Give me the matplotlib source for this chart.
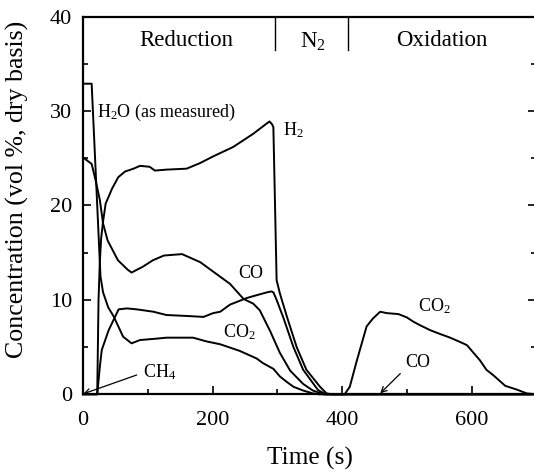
import matplotlib
matplotlib.use("Agg")
import matplotlib.pyplot as plt
from matplotlib.ticker import MultipleLocator

plt.rcParams['font.family'] = ['Liberation Serif', 'DejaVu Serif']
plt.rcParams['mathtext.fontset'] = 'custom'
plt.rcParams['mathtext.rm'] = 'Liberation Serif'
plt.rcParams['mathtext.it'] = 'Liberation Serif:italic'

# ---- data (time in s, concentration in vol %) ----
h2o_t = [0, 13.4, 27, 31, 39, 47, 62, 75, 88, 114, 129, 170, 191, 212, 242, 268, 278, 294, 304, 315, 325, 340, 355, 365, 700]
h2o_c = [32.9, 32.9, 12.5, 10.8, 9.2, 8.3, 6.1, 5.4, 5.75, 5.9, 6.0, 6.0, 5.6, 5.3, 4.6, 3.8, 3.3, 2.7, 1.9, 1.3, 0.8, 0.4, 0.1, 0, 0]

co2_t = [0, 13.4, 20, 26, 31, 38, 54, 69, 75, 92, 108, 125, 153, 181, 201, 227, 248, 263, 273, 289, 304, 320, 340, 355, 372,
         404, 412, 423, 438, 448, 459, 469, 487, 500, 510, 521, 536, 551, 567, 587, 593, 603, 613, 623, 634, 652, 670, 685, 700]
co2_c = [25.1, 24.4, 22.5, 20.6, 18.1, 16.3, 14.2, 13.2, 12.9, 13.5, 14.2, 14.7, 14.85, 14.0, 13.0, 11.7, 10.1, 9.6, 8.9, 6.7, 4.4, 2.5, 1.1, 0.4, 0,
         0, 0.8, 3.6, 7.2, 8.05, 8.75, 8.6, 8.5, 8.15, 7.7, 7.3, 6.8, 6.4, 6.0, 5.4, 5.2, 4.4, 3.6, 2.6, 2.0, 0.9, 0.5, 0.1, 0]

h2_t = [0, 22, 24, 26, 28, 31, 35, 45, 54.5, 65, 78, 88, 103, 111, 129, 160, 181, 201, 232, 263, 284, 288, 292, 294,
        299, 304, 315, 330, 345, 366, 376, 385, 700]
h2_c = [0, 0, 10, 14, 16.5, 18.3, 20.2, 21.8, 23.0, 23.6, 23.9, 24.2, 24.1, 23.7, 23.8, 23.9, 24.5, 25.2, 26.2, 27.6, 28.7, 28.9, 28.6, 28.3,
        12.1, 10.7, 8.2, 5.0, 2.6, 0.8, 0.1, 0, 0]

co_t = [0, 22, 26, 29, 39.7, 55, 68, 83, 108.6, 129, 160, 186, 201, 212, 227, 253, 263, 284, 291, 294, 299, 309, 325, 340, 363, 375, 700]
co_c = [0, 0, 2.9, 4.7, 6.8, 9.0, 9.1, 9.0, 8.75, 8.4, 8.3, 8.2, 8.6, 8.75, 9.5, 10.2, 10.4, 10.8, 10.9, 10.8, 10.0, 8.2, 5.0, 2.6, 0.45, 0, 0]

ch4_t = [0, 700]
ch4_c = [0, 0]

phase_names = ['Reduction', r'N$_\mathregular{2}$', 'Oxidation']
phase_bounds = [297, 410]

fig = plt.figure(figsize=(5.34, 4.71), dpi=100)
ax = fig.add_axes([0.1554, 0.1628, 0.8489, 0.8018])

lw = 1.4
for t, c in [(h2o_t, h2o_c), (co2_t, co2_c), (h2_t, h2_c), (co_t, co_c), (ch4_t, ch4_c)]:
    ax.plot(t, c, color='black', lw=lw, solid_joinstyle='round', clip_on=False)

ax.set_xlim(0, 700)
ax.set_ylim(0, 40)
ax.xaxis.set_major_locator(MultipleLocator(200))
ax.xaxis.set_minor_locator(MultipleLocator(100))
ax.yaxis.set_major_locator(MultipleLocator(10))
ax.yaxis.set_minor_locator(MultipleLocator(5))
ax.tick_params(which='both', direction='in', top=False, right=True, labelsize=16, width=1.2)
ax.tick_params(which='major', length=6)
ax.tick_params(which='minor', length=3.6)
ax.tick_params(axis='x', pad=12)
ax.tick_params(axis='y', pad=8)
for s in ax.spines.values():
    s.set_linewidth(1.6)

ax.set_xlabel('Time (s)', fontsize=18.3, labelpad=12)
ax.set_ylabel('Concentration (vol %, dry basis)', fontsize=18.6, labelpad=11)
ax.yaxis.set_label_coords(-0.118, 0.544)

# phase dividers and names
for b in phase_bounds:
    ax.plot([b, b], [36.5, 40], color='black', lw=1.0)
ax.text(159, 37.5, phase_names[0], ha='center', va='center', fontsize=16.5)
ax.text(355, 37.3, phase_names[1], ha='center', va='center', fontsize=16.5)
ax.text(554, 37.5, phase_names[2], ha='center', va='center', fontsize=16.5)

fs = 13
ax.text(21.6, 29.9, r'H$_\mathregular{2}$O (as measured)', ha='left', va='center', fontsize=fs)
ax.text(309, 28.0, r'H$_\mathregular{2}$', ha='left', va='center', fontsize=fs)
ax.text(259, 12.8, 'CO', ha='center', va='center', fontsize=fs)
ax.text(216, 6.6, r'CO$_\mathregular{2}$', ha='left', va='center', fontsize=fs)
ax.text(93, 2.4, r'CH$_\mathregular{4}$', ha='left', va='center', fontsize=fs)
ax.text(517, 9.3, r'CO$_\mathregular{2}$', ha='left', va='center', fontsize=fs)
ax.text(497, 3.4, 'CO', ha='left', va='center', fontsize=fs)

arrow = dict(arrowstyle='->', color='black', lw=0.9, shrinkA=0, shrinkB=0)
ax.annotate('', xy=(0.5, 0.05), xytext=(83, 2.05), arrowprops=arrow)
ax.annotate('', xy=(459, 0.1), xytext=(490, 2.2), arrowprops=arrow)

fig.savefig('out.png', dpi=100)
